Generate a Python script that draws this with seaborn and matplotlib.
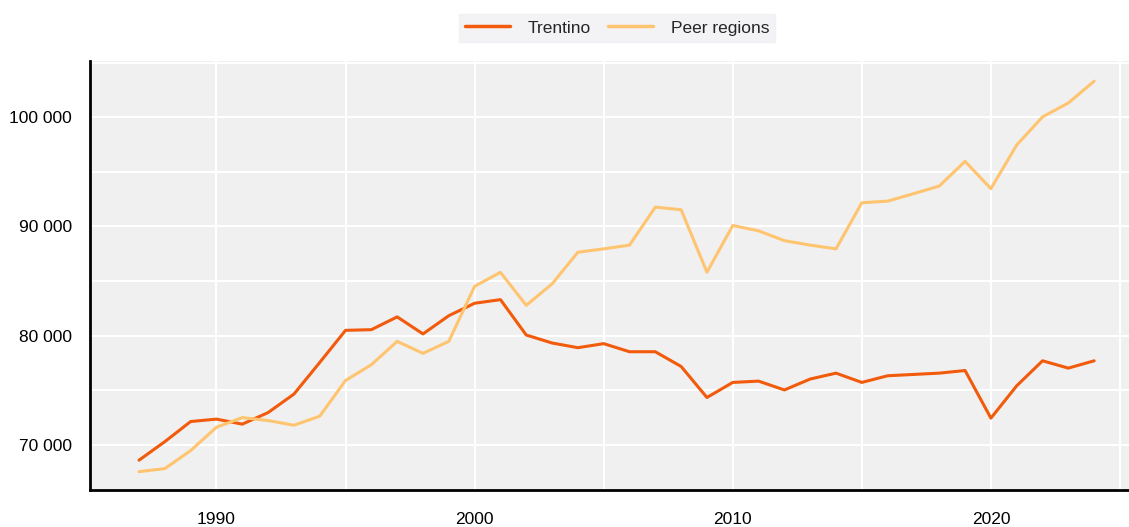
import matplotlib.pyplot as plt
import matplotlib.ticker as mticker
import pandas as pd
import seaborn as sns

years = list(range(1987, 2025))
trentino = [68600, 70300, 72140, 72360, 71900, 72960, 74650, 77550, 80490, 80550,
            81720, 80160, 81830, 82970, 83300, 80060, 79330, 78900, 79270, 78530,
            78530, 77180, 74340, 75720, 75840, 75030, 76030, 76570, 75720, 76330,
            76450, 76570, 76810, 72450, 75410, 77700, 77030, 77700]
peer = [67550, 67830, 69480, 71620, 72500, 72230, 71800, 72630, 75900, 77340,
        79480, 78380, 79480, 84520, 85800, 82780, 84740, 87640, 87950, 88290,
        91770, 91530, 85810, 90090, 89600, 88700, 88290, 87950, 92170, 92320,
        93000, 93700, 95960, 93460, 97460, 100030, 101310, 103300]
series_names = ["Trentino", "Peer regions"]
colors = ["#F25A0C", "#FFC470"]

df = pd.DataFrame({
    "year": years * 2,
    "value": trentino + peer,
    "series": [series_names[0]] * len(years) + [series_names[1]] * len(years),
})

sns.set_theme(style="white")
plt.rcParams["font.family"] = ["Liberation Sans", "DejaVu Sans"]

fig = plt.figure(figsize=(11.29, 5.27), dpi=100)
ax = fig.add_axes([90 / 1129, 1 - 490 / 527, 1 - 90 / 1129, (490 - 61) / 527])
ax.set_facecolor("#F0F0F0")

sns.lineplot(data=df, x="year", y="value", hue="series", palette=colors,
             hue_order=series_names, linewidth=2.2, ax=ax)

ax.set_xlim(1985.1, 2025.35)
ax.set_ylim(65870, 105150)

ax.xaxis.set_major_locator(mticker.MultipleLocator(10))
ax.xaxis.set_minor_locator(mticker.MultipleLocator(5))
ax.yaxis.set_major_locator(mticker.MultipleLocator(10000))
ax.yaxis.set_minor_locator(mticker.MultipleLocator(5000))
ax.yaxis.set_major_formatter(mticker.FuncFormatter(lambda v, p: f"{int(v):,}".replace(",", " ")))
ax.xaxis.set_major_formatter(mticker.FuncFormatter(lambda v, p: f"{int(v)}"))

ax.grid(True, which="both", color="white", linewidth=1.5)
ax.set_axisbelow(True)

for side in ["top", "right"]:
    ax.spines[side].set_visible(False)
for side in ["left", "bottom"]:
    ax.spines[side].set_color("black")
    ax.spines[side].set_linewidth(2)

ax.tick_params(which="major", direction="in", length=5, width=1.5, color="#444444",
               labelsize=12.5, labelcolor="black")
ax.tick_params(axis="y", which="major", pad=13)
ax.tick_params(axis="x", which="major", pad=16)
ax.tick_params(which="minor", length=0)
ax.set_xlabel("")
ax.set_ylabel("")

leg = ax.legend(loc="center", bbox_to_anchor=((467 + 767) / 2 / 1129, 1 - 28 / 527),
                bbox_transform=fig.transFigure, ncol=2, frameon=True, fontsize=12.5,
                handlelength=2.6, columnspacing=1.0, borderpad=0.35, handletextpad=1.0,
                fancybox=False)
leg.get_frame().set_facecolor("#F0EFF3")
leg.get_frame().set_edgecolor("#F0EFF3")
for line in leg.get_lines():
    line.set_linewidth(2.5)

fig.savefig("out.png", dpi=100)
